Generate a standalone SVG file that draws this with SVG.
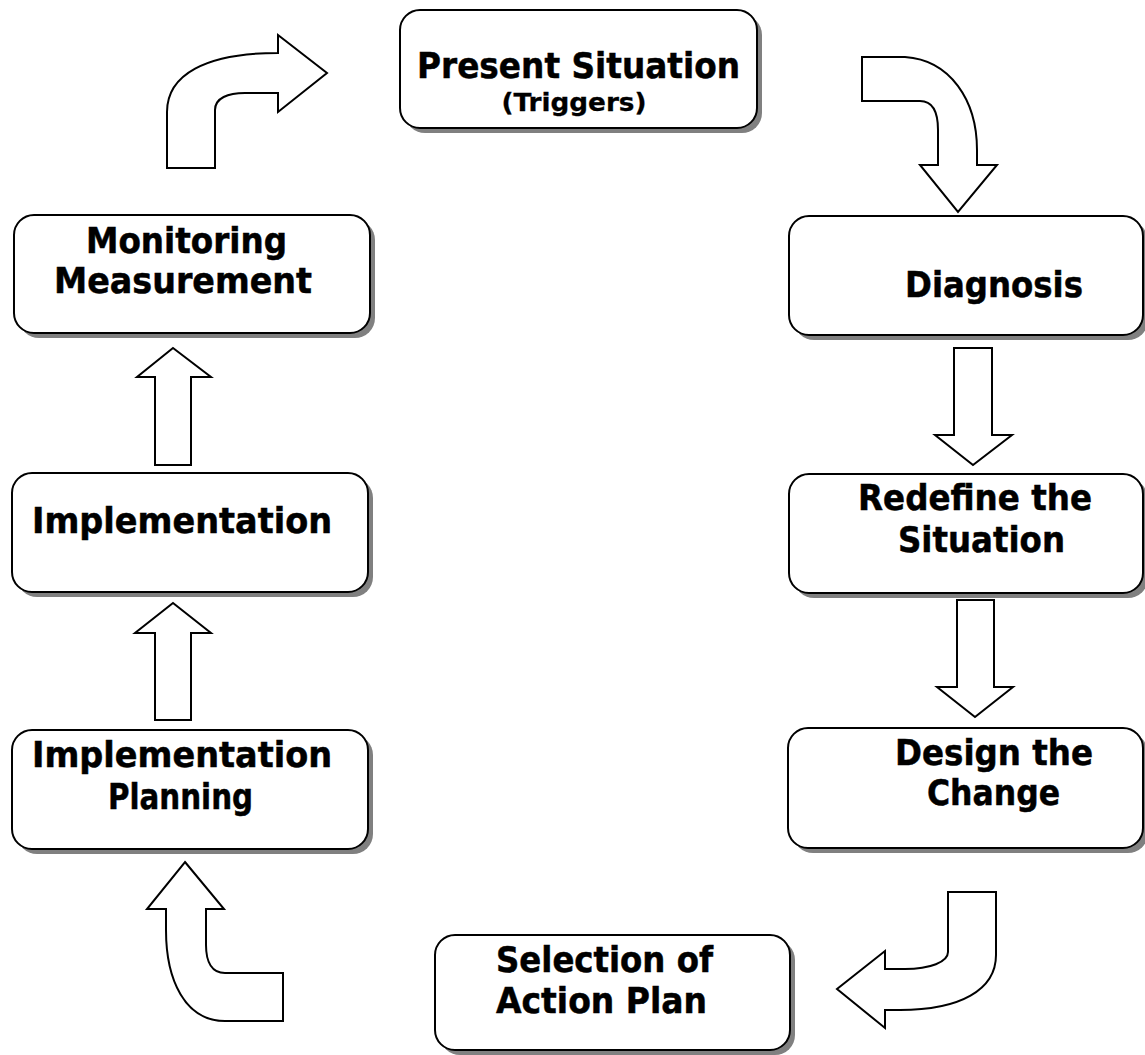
<svg xmlns="http://www.w3.org/2000/svg" width="1145" height="1055" viewBox="0 0 1145 1055">
<style>
.shadow{fill:#808080;}
.box{fill:#fff;stroke:#000;stroke-width:2;}
.t{font-family:"DejaVu Sans","Verdana",sans-serif;font-weight:bold;font-size:35px;fill:#000;stroke:#000;stroke-width:0.5;text-anchor:middle;}
.big{font-size:36px;}
.s{font-size:25px;stroke-width:0.3;}
.arrow{fill:#fff;stroke:#000;stroke-width:2;stroke-linejoin:miter;}
</style>
<rect width="1145" height="1055" fill="#fff"/>
<g id="connectors">
<path class="arrow" d="M167,168 L167,112 C167,75 205,53 278,53 L278,35 L327,73 L278,112 L278,93 L245,93 C228,93 215,98 215,110 L215,168 Z"/>
<path class="arrow" d="M862,57 L905,57 C950,60 977,100 977,150 L977,165 L997,165 L958,212 L920,165 L938,165 L938,130 C938,110 932,101 920,101 L862,101 Z"/>
<path class="arrow" d="M954,348 L992,348 L992,435 L1012,435 L973,465 L935,435 L954,435 Z"/>
<path class="arrow" d="M957,600 L994,600 L994,687 L1013,687 L975,717 L937,687 L957,687 Z"/>
<path class="arrow" d="M948,892 L996,892 L996,955 C996,990 960,1010 900,1010 L885,1010 L885,1028 L837,989 L885,951 L885,969 L905,969 C930,969 948,962 948,952 Z"/>
<path class="arrow" d="M185,862 L224,909 L206,909 L206,945 C206,962 212,973 225,973 L283,973 L283,1021 L225,1021 C185,1021 166,980 166,930 L166,909 L147,909 Z"/>
<path class="arrow" d="M173,603 L211,633 L191,633 L191,720 L155,720 L155,633 L135,633 Z"/>
<path class="arrow" d="M173,348 L211,377 L191,377 L191,465 L155,465 L155,377 L137,377 Z"/>
</g>
<g id="present">
<rect class="shadow" x="405" y="15" width="357" height="118" rx="20"/>
<rect class="box" x="400" y="10" width="357" height="118" rx="20"/>
<text class="t big" x="578.5" y="78" textLength="323" lengthAdjust="spacingAndGlyphs">Present Situation</text>
<text class="t s" x="574" y="111" textLength="145" lengthAdjust="spacingAndGlyphs">(Triggers)</text>
</g>
<g id="diagnosis">
<rect class="shadow" x="794" y="221" width="354" height="119" rx="20"/>
<rect class="box" x="789" y="216" width="354" height="119" rx="20"/>
<text class="t" x="994" y="297" textLength="178" lengthAdjust="spacingAndGlyphs">Diagnosis</text>
</g>
<g id="redefine">
<rect class="shadow" x="794" y="479" width="354" height="119" rx="20"/>
<rect class="box" x="789" y="474" width="354" height="119" rx="20"/>
<text class="t" x="975" y="510" textLength="234" lengthAdjust="spacingAndGlyphs">Redefine the</text>
<text class="t" x="981.5" y="552" textLength="167" lengthAdjust="spacingAndGlyphs">Situation</text>
</g>
<g id="design">
<rect class="shadow" x="793" y="733" width="355" height="120" rx="20"/>
<rect class="box" x="788" y="728" width="355" height="120" rx="20"/>
<text class="t" x="994" y="765" textLength="198" lengthAdjust="spacingAndGlyphs">Design the</text>
<text class="t" x="993.5" y="805" textLength="133" lengthAdjust="spacingAndGlyphs">Change</text>
</g>
<g id="selection">
<rect class="shadow" x="440" y="940" width="355" height="115" rx="20"/>
<rect class="box" x="435" y="935" width="355" height="115" rx="20"/>
<text class="t" x="604.5" y="972" textLength="217" lengthAdjust="spacingAndGlyphs">Selection of</text>
<text class="t" x="601.5" y="1013" textLength="211" lengthAdjust="spacingAndGlyphs">Action Plan</text>
</g>
<g id="impl-planning">
<rect class="shadow" x="17" y="735" width="356" height="119" rx="20"/>
<rect class="box" x="12" y="730" width="356" height="119" rx="20"/>
<text class="t" x="182" y="767" textLength="300" lengthAdjust="spacingAndGlyphs">Implementation</text>
<text class="t" x="180.5" y="809" textLength="145" lengthAdjust="spacingAndGlyphs">Planning</text>
</g>
<g id="implementation">
<rect class="shadow" x="17" y="478" width="356" height="119" rx="20"/>
<rect class="box" x="12" y="473" width="356" height="119" rx="20"/>
<text class="t" x="182" y="533" textLength="300" lengthAdjust="spacingAndGlyphs">Implementation</text>
</g>
<g id="monitoring">
<rect class="shadow" x="19" y="220" width="356" height="118" rx="20"/>
<rect class="box" x="14" y="215" width="356" height="118" rx="20"/>
<text class="t" x="186.5" y="253" textLength="201" lengthAdjust="spacingAndGlyphs">Monitoring</text>
<text class="t" x="183" y="293" textLength="258" lengthAdjust="spacingAndGlyphs">Measurement</text>
</g>
</svg>
